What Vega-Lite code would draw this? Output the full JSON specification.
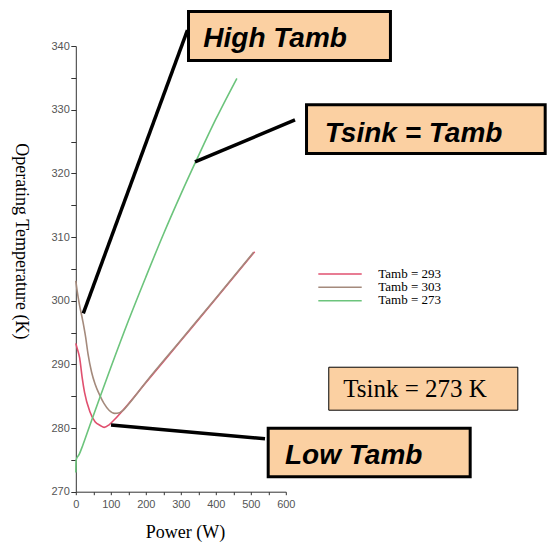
{
  "$schema": "https://vega.github.io/schema/vega-lite/v6.json",
  "width": 210,
  "height": 445.7,
  "autosize": "none",
  "padding": {"left": 75.8, "top": 46, "right": 262.2, "bottom": 53.3},
  "background": "white",
  "config": {"view": {"stroke": null}, "font": "Liberation Sans"},
  "resolve": {"axis": {"x": "independent", "y": "independent"}},
  "datasets": {
    "curves": [
      {"series": "Tamb = 293", "power": 0, "temp": 293.3},
      {"series": "Tamb = 293", "power": 4, "temp": 292.5},
      {"series": "Tamb = 293", "power": 11, "temp": 291.0},
      {"series": "Tamb = 293", "power": 18, "temp": 288.0},
      {"series": "Tamb = 293", "power": 25, "temp": 285.6},
      {"series": "Tamb = 293", "power": 40, "temp": 282.6},
      {"series": "Tamb = 293", "power": 55, "temp": 281.0},
      {"series": "Tamb = 293", "power": 70, "temp": 280.4},
      {"series": "Tamb = 293", "power": 81, "temp": 280.1},
      {"series": "Tamb = 293", "power": 95, "temp": 280.5},
      {"series": "Tamb = 293", "power": 110, "temp": 281.3},
      {"series": "Tamb = 293", "power": 130, "temp": 282.5},
      {"series": "Tamb = 293", "power": 200, "temp": 287.1},
      {"series": "Tamb = 293", "power": 300, "temp": 293.7},
      {"series": "Tamb = 293", "power": 400, "temp": 300.3},
      {"series": "Tamb = 293", "power": 511, "temp": 307.7},
      {"series": "Tamb = 303", "power": 0, "temp": 303.1},
      {"series": "Tamb = 303", "power": 4, "temp": 301.5},
      {"series": "Tamb = 303", "power": 10, "temp": 299.5},
      {"series": "Tamb = 303", "power": 20, "temp": 296.8},
      {"series": "Tamb = 303", "power": 28, "temp": 294.3},
      {"series": "Tamb = 303", "power": 35, "temp": 291.6},
      {"series": "Tamb = 303", "power": 45, "temp": 288.8},
      {"series": "Tamb = 303", "power": 55, "temp": 286.9},
      {"series": "Tamb = 303", "power": 68, "temp": 285.2},
      {"series": "Tamb = 303", "power": 80, "temp": 283.9},
      {"series": "Tamb = 303", "power": 95, "temp": 282.8},
      {"series": "Tamb = 303", "power": 111, "temp": 282.3},
      {"series": "Tamb = 303", "power": 125, "temp": 282.4},
      {"series": "Tamb = 303", "power": 136, "temp": 282.8},
      {"series": "Tamb = 303", "power": 150, "temp": 283.7},
      {"series": "Tamb = 303", "power": 200, "temp": 287.2},
      {"series": "Tamb = 303", "power": 300, "temp": 293.8},
      {"series": "Tamb = 303", "power": 400, "temp": 300.4},
      {"series": "Tamb = 303", "power": 508, "temp": 307.6},
      {"series": "Tamb = 273", "power": 0, "temp": 273.0},
      {"series": "Tamb = 273", "power": 1, "temp": 275.0},
      {"series": "Tamb = 273", "power": 10, "temp": 275.9},
      {"series": "Tamb = 273", "power": 20, "temp": 277.3},
      {"series": "Tamb = 273", "power": 40, "temp": 280.4},
      {"series": "Tamb = 273", "power": 70, "temp": 285.0},
      {"series": "Tamb = 273", "power": 100, "temp": 289.5},
      {"series": "Tamb = 273", "power": 150, "temp": 296.8},
      {"series": "Tamb = 273", "power": 200, "temp": 303.7},
      {"series": "Tamb = 273", "power": 250, "temp": 310.4},
      {"series": "Tamb = 273", "power": 300, "temp": 316.7},
      {"series": "Tamb = 273", "power": 350, "temp": 322.7},
      {"series": "Tamb = 273", "power": 400, "temp": 328.5},
      {"series": "Tamb = 273", "power": 460, "temp": 334.9}
    ]
  },
  "layer": [
    {
      "data": {"name": "curves"},
      "mark": {"type": "line", "strokeWidth": 1.6, "interpolate": "monotone"},
      "encoding": {
        "x": {
          "field": "power", "type": "quantitative",
          "scale": {"domain": [0, 600], "nice": false, "zero": false},
          "axis": {
            "orient": "bottom",
            "title": "Power  (W)",
            "values": [0, 100, 200, 300, 400, 500, 600],
            "grid": false, "tickSize": 3, "labelPadding": 4,
            "labelFlush": false, "labelOverlap": false,
            "labelFont": "Liberation Sans", "labelFontSize": 11, "labelColor": "#555555",
            "tickColor": "#333333", "domainColor": "#333333",
            "titleFont": "Liberation Serif", "titleFontSize": 18, "titleFontWeight": "normal", "titleColor": "black",
            "titleX": 109.2, "titleY": 46, "titleBaseline": "alphabetic", "titleAlign": "center"
          }
        },
        "y": {
          "field": "temp", "type": "quantitative",
          "scale": {"domain": [270, 340], "nice": false, "zero": false},
          "axis": {
            "orient": "left",
            "title": "Operating Temperature (K)",
            "values": [270, 280, 290, 300, 310, 320, 330, 340],
            "grid": false, "tickSize": 5, "labelPadding": 1.5,
            "labelFlush": false, "labelOverlap": false,
            "labelFont": "Liberation Sans", "labelFontSize": 11, "labelColor": "#555555",
            "tickColor": "#333333", "domainColor": "#333333",
            "titleFont": "Liberation Serif", "titleFontSize": 18, "titleFontWeight": "normal", "titleColor": "black",
            "titleAngle": 90, "titleX": -60.2, "titleY": 194.8, "titleBaseline": "alphabetic", "titleAlign": "center"
          }
        },
        "color": {
          "field": "series", "type": "nominal",
          "scale": {"domain": ["Tamb = 293", "Tamb = 303", "Tamb = 273"], "range": ["#e0506f", "#a48a7c", "#6cc47c"]},
          "legend": null
        }
      }
    },
    {
      "data": {"values": [{"label": "High Tamb"}]},
      "mark": {"type": "rect", "fill": "#fbd0a2", "stroke": "black", "strokeWidth": 3},
      "encoding": {
        "x": {"datum": 322, "axis": {"orient": "bottom", "values": [50, 150, 250, 350, 450, 550], "labels": false, "domain": false, "grid": false, "title": null, "tickSize": 3, "tickColor": "#333333"}},
        "x2": {"datum": 899},
        "y": {"datum": 345.4, "axis": {"orient": "left", "values": [275, 285, 295, 305, 315, 325, 335], "labels": false, "domain": false, "grid": false, "title": null, "tickSize": 5, "tickColor": "#333333"}},
        "y2": {"datum": 337.73}
      }
    },
    {
      "data": {"values": [{"label": "Tsink = Tamb"}]},
      "mark": {"type": "rect", "fill": "#fbd0a2", "stroke": "black", "strokeWidth": 3},
      "encoding": {"x": {"datum": 659.2, "axis": null}, "x2": {"datum": 1341.1}, "y": {"datum": 330.76, "axis": null}, "y2": {"datum": 323.12}}
    },
    {
      "data": {"values": [{"label": "Tsink = 273 K"}]},
      "mark": {"type": "rect", "fill": "#fbd0a2", "stroke": "black", "strokeWidth": 1},
      "encoding": {"x": {"datum": 722.8, "axis": null}, "x2": {"datum": 1262.9}, "y": {"datum": 289.55, "axis": null}, "y2": {"datum": 282.8}}
    },
    {
      "data": {"values": [{"label": "Low Tamb"}]},
      "mark": {"type": "rect", "fill": "#fbd0a2", "stroke": "black", "strokeWidth": 3},
      "encoding": {"x": {"datum": 549.7, "axis": null}, "x2": {"datum": 1126.8}, "y": {"datum": 279.97, "axis": null}, "y2": {"datum": 272.34}}
    },
    {
      "data": {"values": [{"label": "High Tamb"}]},
      "mark": {"type": "text", "font": "Liberation Sans", "fontSize": 28, "fontWeight": "bold", "fontStyle": "italic", "align": "left", "baseline": "alphabetic", "color": "black"},
      "encoding": {"x": {"datum": 364.3, "axis": null}, "y": {"datum": 339.89, "axis": null}, "text": {"field": "label"}}
    },
    {
      "data": {"values": [{"label": "Tsink = Tamb"}]},
      "mark": {"type": "text", "font": "Liberation Sans", "fontSize": 28, "fontWeight": "bold", "fontStyle": "italic", "align": "left", "baseline": "alphabetic", "color": "black"},
      "encoding": {"x": {"datum": 711.4, "axis": null}, "y": {"datum": 324.97, "axis": null}, "text": {"field": "label"}}
    },
    {
      "data": {"values": [{"label": "Tsink = 273 K"}]},
      "mark": {"type": "text", "font": "Liberation Serif", "fontSize": 25, "align": "left", "baseline": "alphabetic", "color": "black"},
      "encoding": {"x": {"datum": 764.3, "axis": null}, "y": {"datum": 284.83, "axis": null}, "text": {"field": "label"}}
    },
    {
      "data": {"values": [{"label": "Low Tamb"}]},
      "mark": {"type": "text", "font": "Liberation Sans", "fontSize": 28, "fontWeight": "bold", "fontStyle": "italic", "align": "left", "baseline": "alphabetic", "color": "black"},
      "encoding": {"x": {"datum": 597.7, "axis": null}, "y": {"datum": 274.35, "axis": null}, "text": {"field": "label"}}
    },
    {
      "data": {"values": [{"label": "High Tamb"}]},
      "mark": {"type": "rule", "stroke": "black", "strokeWidth": 3.5},
      "encoding": {"x": {"datum": 319, "axis": null}, "y": {"datum": 342.5, "axis": null}, "x2": {"datum": 21.4}, "y2": {"datum": 298.02}}
    },
    {
      "data": {"values": [{"label": "Tsink = Tamb"}]},
      "mark": {"type": "rule", "stroke": "black", "strokeWidth": 3.5},
      "encoding": {"x": {"datum": 626.3, "axis": null}, "y": {"datum": 328.38, "axis": null}, "x2": {"datum": 340.6}, "y2": {"datum": 321.8}}
    },
    {
      "data": {"values": [{"label": "Low Tamb"}]},
      "mark": {"type": "rule", "stroke": "black", "strokeWidth": 3.5},
      "encoding": {"x": {"datum": 100.6, "axis": null}, "y": {"datum": 280.48, "axis": null}, "x2": {"datum": 540.6}, "y2": {"datum": 278.3}}
    },
    {
      "data": {"values": [{"series": "Tamb = 293"}]},
      "mark": {"type": "rule", "stroke": "#e0506f", "strokeWidth": 1.6},
      "encoding": {"x": {"datum": 692.9, "axis": null}, "x2": {"datum": 816.9}, "y": {"datum": 304.19, "axis": null}}
    },
    {
      "data": {"values": [{"series": "Tamb = 303"}]},
      "mark": {"type": "rule", "stroke": "#a48a7c", "strokeWidth": 1.6},
      "encoding": {"x": {"datum": 692.9, "axis": null}, "x2": {"datum": 816.9}, "y": {"datum": 302.1, "axis": null}}
    },
    {
      "data": {"values": [{"series": "Tamb = 273"}]},
      "mark": {"type": "rule", "stroke": "#6cc47c", "strokeWidth": 1.6},
      "encoding": {"x": {"datum": 692.9, "axis": null}, "x2": {"datum": 816.9}, "y": {"datum": 300.0, "axis": null}}
    },
    {
      "data": {"values": [{"series": "Tamb = 293"}]},
      "mark": {"type": "text", "font": "Liberation Serif", "fontSize": 13, "align": "left", "baseline": "alphabetic", "color": "black"},
      "encoding": {"x": {"datum": 864.3, "axis": null}, "y": {"datum": 303.61, "axis": null}, "text": {"field": "series"}}
    },
    {
      "data": {"values": [{"series": "Tamb = 303"}]},
      "mark": {"type": "text", "font": "Liberation Serif", "fontSize": 13, "align": "left", "baseline": "alphabetic", "color": "black"},
      "encoding": {"x": {"datum": 864.3, "axis": null}, "y": {"datum": 301.52, "axis": null}, "text": {"field": "series"}}
    },
    {
      "data": {"values": [{"series": "Tamb = 273"}]},
      "mark": {"type": "text", "font": "Liberation Serif", "fontSize": 13, "align": "left", "baseline": "alphabetic", "color": "black"},
      "encoding": {"x": {"datum": 864.3, "axis": null}, "y": {"datum": 299.43, "axis": null}, "text": {"field": "series"}}
    }
  ]
}
